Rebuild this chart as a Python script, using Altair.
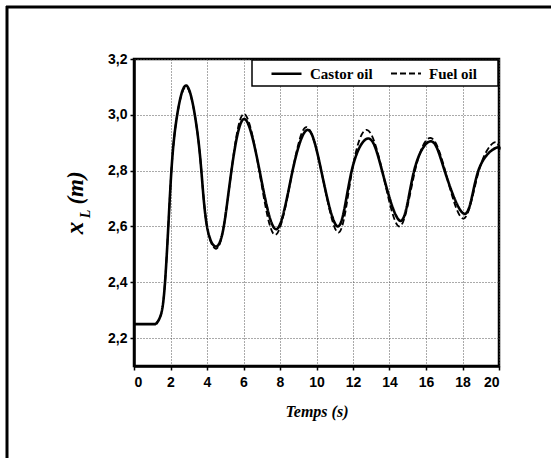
import altair as alt
import pandas as pd

# --- data ---
castor_t = [0, 1.0, 1.2, 1.5, 1.7, 1.88, 2.05, 2.32, 2.85, 3.38, 3.69, 4.0, 4.5, 4.92, 5.34,
            6.02, 6.88, 7.8, 8.69, 9.52, 10.26, 11.18, 11.93, 12.85, 13.59, 14.61, 15.35,
            16.28, 17.02, 18.13, 18.87, 19.85, 20]
castor_x = [2.25, 2.25, 2.25, 2.29, 2.40, 2.60, 2.80, 2.98, 3.105, 2.98, 2.80, 2.60, 2.528, 2.60,
            2.80, 2.985, 2.80, 2.59, 2.80, 2.946, 2.80, 2.60, 2.80, 2.915, 2.80, 2.62, 2.80,
            2.905, 2.80, 2.645, 2.80, 2.882, 2.875]

fuel_t = [0, 1.0, 1.2, 1.5, 1.7, 1.88, 2.05, 2.32, 2.85, 3.38, 3.69, 4.0, 4.5, 4.92, 5.34,
          6.0, 6.86, 7.75, 8.69, 9.45, 10.26, 11.2, 11.95, 12.75, 13.6, 14.55, 15.4,
          16.25, 17.05, 18.05, 18.9, 19.7, 20]
fuel_x = [2.25, 2.25, 2.25, 2.29, 2.40, 2.60, 2.80, 2.98, 3.10, 2.98, 2.80, 2.60, 2.52, 2.60,
          2.80, 3.003, 2.80, 2.57, 2.80, 2.956, 2.80, 2.578, 2.80, 2.946, 2.80, 2.60, 2.80,
          2.917, 2.80, 2.628, 2.80, 2.90, 2.885]

series = ["Castor oil", "Fuel oil"]
x_ticks = [0, 2, 4, 6, 8, 10, 12, 14, 16, 18, 20]
y_ticks = [2.2, 2.4, 2.6, 2.8, 3.0, 3.2]
T_START = 1.2  # end of the flat initial part

def frame_of(name, ts, vs):
    return pd.DataFrame({"t": ts, "x": vs, "oil": name})

df_castor = frame_of(series[0], castor_t, castor_x)
df_fuel = frame_of(series[1], fuel_t, fuel_x)

W, H = 365, 307
LEFT, TOP = 134, 59

xs = alt.Scale(domain=[0, 20], nice=False, zero=False)
ys = alt.Scale(domain=[2.1, 3.2], nice=False, zero=False)

enc = dict(
    x=alt.X("t:Q", scale=xs,
            axis=alt.Axis(values=x_ticks, format="d", title="Temps (s)")),
    y=alt.Y("x:Q", scale=ys,
            axis=alt.Axis(values=y_ticks, title=None,
                          labelExpr="replace(format(datum.value, '.1f'), '.', ',')")),
    strokeDash=alt.StrokeDash("oil:N", scale=alt.Scale(domain=series, range=[[1, 0], [6, 3]]),
                              title=None),
    strokeWidth=alt.StrokeWidth("oil:N", scale=alt.Scale(domain=series, range=[2.6, 1.8]),
                                title=None),
)

def series_layers(d):
    flat = alt.Chart(d).transform_filter(alt.datum.t <= T_START).mark_line(
        interpolate="linear", color="black").encode(**enc)
    osc = alt.Chart(d).transform_filter(alt.datum.t >= T_START).mark_line(
        interpolate="natural", color="black").encode(**enc)
    return [flat, osc]

# legend box (white, framed)
box = alt.Chart(pd.DataFrame({"a": [0]})).mark_rect(
    fill="white", stroke="black", strokeWidth=1.5
).encode(x=alt.value(118), x2=alt.value(364), y=alt.value(1), y2=alt.value(27))

def ytxt(txt, xpix, ypix, size):
    return alt.Chart(pd.DataFrame({"s": [txt]})).mark_text(
        angle=270, font="Liberation Serif", fontStyle="italic", fontWeight="bold",
        fontSize=size, align="center", baseline="alphabetic", color="black"
    ).encode(text="s:N", x=alt.value(xpix), y=alt.value(ypix))

ytitle = ytxt("x", -51, 169, 25) + ytxt("L", -44, 155, 14) + ytxt("(m)", -51, 129, 23)

# outer frame of the figure
frame_left = alt.Chart(pd.DataFrame({"a": [0]})).mark_rule(color="black", strokeWidth=3).encode(
    x=alt.value(-127), y=alt.value(-53), y2=alt.value(400))
frame_top = alt.Chart(pd.DataFrame({"a": [0]})).mark_rule(color="black", strokeWidth=3).encode(
    x=alt.value(-128), x2=alt.value(420), y=alt.value(-52))

layers = [box] + series_layers(df_fuel) + series_layers(df_castor) + [ytitle, frame_left, frame_top]

chart = alt.layer(*layers).properties(
    width=W, height=H,
    autosize=alt.AutoSizeParams(type="none"),
    padding={"left": LEFT, "top": TOP, "right": 551 - LEFT - W, "bottom": 458 - TOP - H},
).configure_view(
    stroke="black", strokeWidth=2.5
).configure_axis(
    domainColor="black", domainWidth=2.5,
    tickColor="black", tickWidth=1.5, tickSize=4,
    grid=True, gridColor="#555", gridDash=[1, 2], gridWidth=1,
    labelFont="Liberation Sans", labelFontWeight="bold", labelFontSize=14, labelColor="black",
    titleFont="Liberation Serif", titleFontStyle="italic", titleFontWeight="bold",
    titleFontSize=16, titleColor="black",
).configure_axisX(
    labelPadding=5, titlePadding=14
).configure_axisY(
    labelPadding=3
).configure_legend(
    orient="none", legendX=136, legendY=-2, direction="horizontal",
    symbolType="stroke", symbolSize=900, symbolStrokeColor="black",
    labelFont="Liberation Serif", labelFontWeight="bold", labelFontSize=15, labelColor="black",
    columnPadding=14, labelOffset=7, padding=0,
)

chart.save("out.html", embed_options={"renderer": "svg", "actions": False})
